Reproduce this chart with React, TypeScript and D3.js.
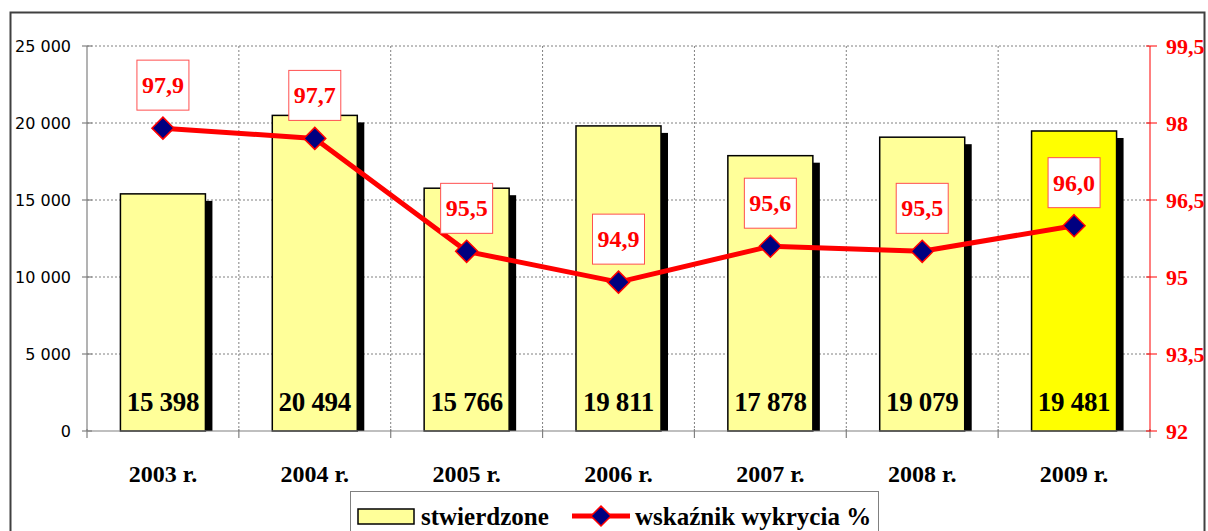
import React from "react";
import * as d3 from "d3";

const categories = ["2003 r.", "2004 r.", "2005 r.", "2006 r.", "2007 r.", "2008 r.", "2009 r."];
const stwierdzone = [15398, 20494, 15766, 19811, 17878, 19079, 19481];
const wskaznik = [97.9, 97.7, 95.5, 94.9, 95.6, 95.5, 96.0];
const leftTicks = [0, 5000, 10000, 15000, 20000, 25000];
const rightTicks = [92, 93.5, 95, 96.5, 98, 99.5];
const legendLabels = ["stwierdzone", "wskaźnik wykrycia %"];

const W = 1208;
const H = 531;
const plot = { left: 87, right: 1150, top: 46, bottom: 431 };
const serif = "'Liberation Serif', 'DejaVu Serif', serif";
const sans = "'DejaVu Sans', sans-serif";

const fmtThousands = (v: number) => {
  const s = String(Math.round(v));
  return s.replace(/\B(?=(\d{3})+(?!\d))/g, " ");
};
const fmtComma = (v: number) => v.toFixed(1).replace(".", ",");
const fmtRight = (v: number) => (Number.isInteger(v) ? String(v) : String(v).replace(".", ","));

export default function App() {
  const x = d3.scaleBand<string>().domain(categories).range([plot.left, plot.right]).paddingInner(0).paddingOuter(0);
  const bw = x.bandwidth();
  const barW = 85;
  const yL = d3.scaleLinear().domain([0, 25000]).range([plot.bottom, plot.top]);
  const yR = d3.scaleLinear().domain([92, 99.5]).range([plot.bottom, plot.top]);
  const cx = (c: string) => (x(c) as number) + bw / 2;

  const line = d3
    .line<number>()
    .x((_, i) => cx(categories[i]))
    .y((d) => yR(d));

  const diamond = (px: number, py: number, r: number) =>
    `M${px},${py - r}L${px + r},${py}L${px},${py + r}L${px - r},${py}Z`;

  const boundaries = categories.map((c) => x(c) as number).concat([plot.right]);

  return (
    <svg width={W} height={H} style={{ position: "absolute", left: 0, top: 0, background: "#fff" }}>
      {/* outer frame */}
      <rect x={10.5} y={12.5} width={1194} height={540} fill="#fff" stroke="#404040" strokeWidth={2} />

      {/* gridlines */}
      {leftTicks.slice(1).map((t) => (
        <line key={"hg" + t} x1={plot.left} x2={plot.right} y1={yL(t)} y2={yL(t)} stroke="#808080" strokeWidth={1} strokeDasharray="2,2" />
      ))}
      {boundaries.slice(1, -1).map((b, i) => (
        <line key={"vg" + i} x1={b} x2={b} y1={plot.top} y2={plot.bottom} stroke="#808080" strokeWidth={1} strokeDasharray="2,2" />
      ))}

      {/* bars */}
      {categories.map((c, i) => {
        const bx = cx(c) - barW / 2;
        const by = yL(stwierdzone[i]);
        return (
          <g key={"b" + c}>
            <rect x={bx + 7} y={by + 7} width={barW} height={plot.bottom - by - 7} fill="#000" />
            <rect x={bx} y={by} width={barW} height={plot.bottom - by} fill={i === 6 ? "#FFFF00" : "#FFFF99"} stroke="#000" strokeWidth={1.5} />
            <text x={cx(c)} y={411} textAnchor="middle" fontFamily={serif} fontWeight="bold" fontSize={27} letterSpacing={-0.3} fill="#000">
              {fmtThousands(stwierdzone[i])}
            </text>
          </g>
        );
      })}

      {/* axes */}
      <line x1={plot.left} x2={plot.left} y1={plot.top} y2={plot.bottom} stroke="#808080" strokeWidth={1.2} />
      <line x1={plot.left} x2={plot.right} y1={plot.bottom} y2={plot.bottom} stroke="#808080" strokeWidth={1.2} />
      {leftTicks.map((t) => (
        <g key={"lt" + t}>
          <line x1={plot.left - 5} x2={plot.left + 5} y1={yL(t)} y2={yL(t)} stroke="#808080" strokeWidth={1.2} />
          <text x={71} y={yL(t) + 6} textAnchor="end" fontFamily={sans} fontSize={16} fill="#000">
            {fmtThousands(t)}
          </text>
        </g>
      ))}
      {boundaries.map((b, i) => (
        <line key={"xt" + i} x1={b} x2={b} y1={plot.bottom - 2} y2={plot.bottom + 7} stroke="#808080" strokeWidth={1.2} />
      ))}
      {categories.map((c) => (
        <text key={"xl" + c} x={cx(c)} y={482} textAnchor="middle" fontFamily={serif} fontWeight="bold" fontSize={24} fill="#000">
          {c}
        </text>
      ))}

      {/* right axis */}
      <line x1={plot.right} x2={plot.right} y1={plot.top} y2={plot.bottom} stroke="#FF0000" strokeWidth={1} />
      {rightTicks.map((t) => (
        <g key={"rt" + t}>
          <line x1={plot.right - 4} x2={plot.right + 7} y1={yR(t)} y2={yR(t)} stroke="#FF0000" strokeWidth={1} />
          <text x={1166} y={yR(t) + 8} textAnchor="start" fontFamily={serif} fontWeight="bold" fontSize={22} fill="#FF0000">
            {fmtRight(t)}
          </text>
        </g>
      ))}

      {/* line series */}
      <path d={line(wskaznik) || ""} fill="none" stroke="#FF0000" strokeWidth={5} strokeLinejoin="round" />
      {wskaznik.map((v, i) => (
        <path key={"m" + i} d={diamond(cx(categories[i]), yR(v), 11)} fill="#000080" stroke="#FF0000" strokeWidth={1.5} />
      ))}
      {wskaznik.map((v, i) => {
        const px = cx(categories[i]);
        const py = yR(v) - 43;
        return (
          <g key={"lab" + i}>
            <rect x={px - 26} y={py - 25} width={52} height={50} fill="#fff" stroke="#FF5050" strokeWidth={1} />
            <text x={px} y={py + 8} textAnchor="middle" fontFamily={serif} fontWeight="bold" fontSize={24} fill="#FF0000">
              {fmtComma(v)}
            </text>
          </g>
        );
      })}

      {/* legend */}
      <rect x={350.5} y={491.5} width={528} height={60} fill="#fff" stroke="#808080" strokeWidth={1} />
      <rect x={358} y={509} width={56} height={15} fill="#FFFF99" stroke="#000" strokeWidth={1.5} />
      <text x={421} y={525} fontFamily={serif} fontWeight="bold" fontSize={25} fill="#000">
        {legendLabels[0]}
      </text>
      <line x1={572} x2={630} y1={516} y2={516} stroke="#FF0000" strokeWidth={5} />
      <path d={diamond(601, 516, 10)} fill="#000080" stroke="#FF0000" strokeWidth={1.5} />
      <text x={635} y={525} fontFamily={serif} fontWeight="bold" fontSize={25} fill="#000">
        {legendLabels[1]}
      </text>
    </svg>
  );
}
